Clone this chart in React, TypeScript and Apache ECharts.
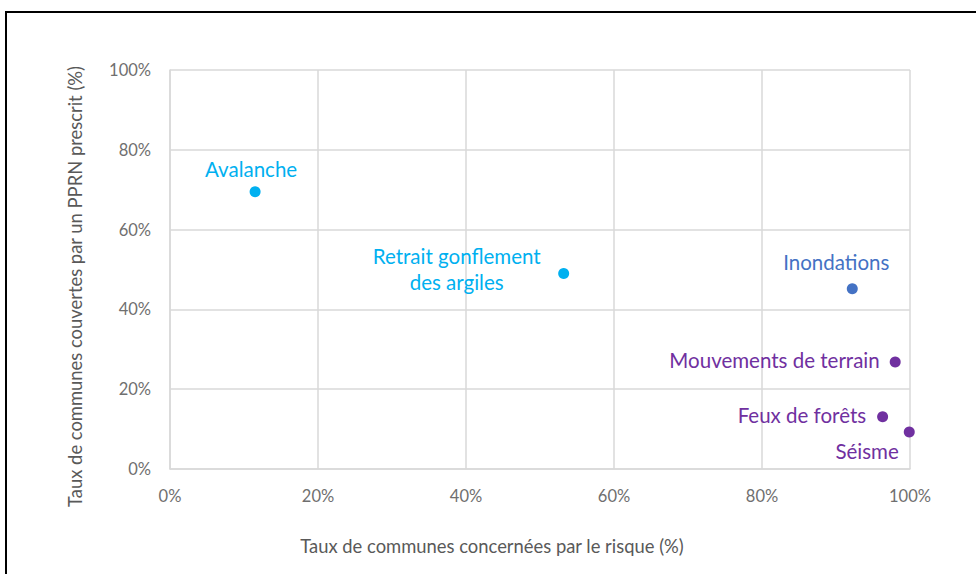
import React, { useEffect, useRef } from "react";
import * as echarts from "echarts";

const riskNames = [
  "Avalanche",
  "Retrait gonflement\ndes argiles",
  "Inondations",
  "Mouvements de terrain",
  "Feux de forêts",
  "Séisme",
];
const concernedPct = [11.5, 53.2, 92.2, 98.0, 96.3, 99.9];
const coveredPct = [69.5, 49.0, 45.2, 26.8, 13.1, 9.3];
const xTicks = [0, 20, 40, 60, 80, 100];
const yTicks = [0, 20, 40, 60, 80, 100];

const pointColors = ["#00B0F0", "#00B0F0", "#4472C4", "#7030A0", "#7030A0", "#7030A0"];
const labelLayouts: any[] = [
  { position: "inside" },
  { position: "inside", align: "center", lineHeight: 26 },
  { position: "inside" },
  { position: "left", distance: 10 },
  { position: "left", distance: 11 },
  { position: "left", distance: 5 },
];
const labelShifts: number[][] = [
  [-4, -23],
  [-107, -4],
  [-16, -27],
  [0, -2],
  [0, -2],
  [0, 19],
];

const FONT = "Lato, 'Open Sans', sans-serif";

export default function App() {
  const ref = useRef<HTMLDivElement>(null);
  useEffect(() => {
    if (!ref.current) return;
    const chart = echarts.init(ref.current, undefined, { renderer: "svg" });
    const data = riskNames.map((name, i) => ({
      name,
      value: [concernedPct[i], coveredPct[i]],
      itemStyle: { color: pointColors[i], opacity: 1 },
      label: {
        show: true,
        formatter: name,
        color: pointColors[i],
        fontSize: 20.5,
        fontFamily: FONT,
        ...labelLayouts[i],
      },
    }));
    chart.setOption({
      animation: false,
      backgroundColor: "#ffffff",
      textStyle: { fontFamily: FONT },
      graphic: [
        {
          type: "rect",
          shape: { x: 6, y: 12, width: 1000, height: 600 },
          style: { fill: "none", stroke: "#000000", lineWidth: 2 },
          silent: true,
        },
      ],
      grid: { left: 170, right: 66, top: 70, bottom: 105 },
      xAxis: {
        type: "value",
        min: xTicks[0],
        max: xTicks[xTicks.length - 1],
        interval: 20,
        name: "Taux de communes concernées par le risque (%)",
        nameLocation: "middle",
        nameGap: 68,
        nameTextStyle: { color: "#595959", fontSize: 18.4, fontFamily: FONT, padding: [0, 96, 0, 0] },
        axisLine: { show: true, lineStyle: { color: "#D9D9D9", width: 1.5 } },
        axisTick: { show: false },
        axisLabel: { color: "#6f6f6f", fontSize: 16.5, margin: 18, formatter: (v: number) => v + "%" },
        splitLine: { show: true, lineStyle: { color: "#D9D9D9", width: 1.5 } },
      },
      yAxis: {
        type: "value",
        min: yTicks[0],
        max: yTicks[yTicks.length - 1],
        interval: 20,
        name: "Taux de communes couvertes par un PPRN prescrit (%)",
        nameLocation: "middle",
        nameGap: 86,
        nameTextStyle: { color: "#595959", fontSize: 18.4, fontFamily: FONT, padding: [0, 34, 0, 0] },
        axisLine: { show: true, lineStyle: { color: "#D9D9D9", width: 1.5 } },
        axisTick: { show: false },
        axisLabel: { color: "#6f6f6f", fontSize: 16.5, margin: 19, formatter: (v: number) => v + "%" },
        splitLine: { show: true, lineStyle: { color: "#D9D9D9", width: 1.5 } },
      },
      series: [
        {
          type: "scatter",
          symbolSize: 11,
          data,
          emphasis: { disabled: true },
          labelLayout: (params: any) => ({
            dx: labelShifts[params.dataIndex][0],
            dy: labelShifts[params.dataIndex][1],
            hideOverlap: false,
          }),
        },
      ],
    });
    return () => chart.dispose();
  }, []);
  return (
    <div
      ref={ref}
      style={{ position: "fixed", left: 0, top: 0, width: 976, height: 574, background: "#fff" }}
    />
  );
}
